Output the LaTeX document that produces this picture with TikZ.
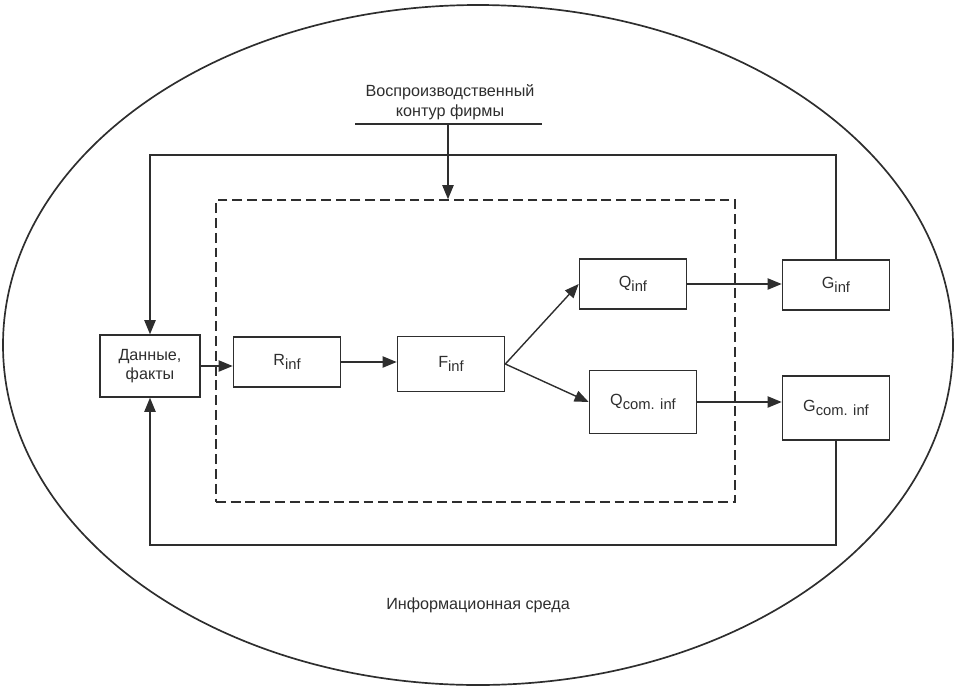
\documentclass[tikz,border=0pt]{standalone}
\usepackage{fontspec}
\setmainfont{Liberation Sans}
\usepackage{tikz}
\usetikzlibrary{positioning,arrows.meta,calc}
\definecolor{ink}{HTML}{2E2E2E}
\newcommand{\lowidx}[1]{\raisebox{-0.45ex}{\fontsize{10.5}{12}\selectfont #1}}
\tikzset{
  box/.style={draw=ink,line width=1pt,minimum width=2.68cm,minimum height=1.25cm,inner sep=2pt,font=\fontsize{11.5}{14}\selectfont,align=center,text=ink},
  note/.style={font=\fontsize{11.5}{14}\selectfont,align=center,inner sep=1pt,text=ink},
  arr/.style={-{Triangle[length=10pt,width=8pt]},line width=1pt,ink},
  line/.style={line width=1pt,ink},
}
\begin{document}
\begin{tikzpicture}[x=0.025cm,y=-0.025cm]
\useasboundingbox (0,0) rectangle (956,686);
\draw[ink,line width=1.2pt] (478,345) ellipse [x radius=475, y radius=340];
\node[note] (env) at (478,605) {Информационная среда};
\node[note] (title) at (450,102) {Воспроизводственный\\контур фирмы};
\node[draw=ink,line width=1pt,dash pattern=on 7pt off 3.5pt,minimum width=12.975cm,minimum height=7.55cm] (frame) at (475.5,351) {};
\node[box,minimum width=2.5cm,minimum height=1.55cm] (data) at (150,366) {Данные,\\факты};
\node[box] (Rinf) at (287,362) {R\lowidx{inf}};
\node[box,minimum height=1.375cm] (Finf) at (451,364) {F\lowidx{inf}};
\node[box] (Qinf) at (633,284) {Q\lowidx{inf}};
\node[box,minimum height=1.575cm] (Qcom) at (643,402) {Q\lowidx{com. inf}};
\node[box] (Ginf) at (836,285) {G\lowidx{inf}};
\node[box,minimum height=1.6cm] (Gcom) at (836,408) {G\lowidx{com. inf}};
\coordinate (ul) at (448,124);
\coordinate (tl) at (150,155);
\coordinate (bl) at (150,545);
\draw[line] (355,124) -- (542,124);
\draw[arr] (ul) -- (ul |- frame.north);
\draw[arr] (data) -- (data -| Rinf.west);
\draw[arr] (Rinf) -- (Rinf -| Finf.west);
\draw[arr] (Finf.east) -- (Qinf.west);
\draw[arr] (Finf.east) -- (Qcom.west);
\draw[arr] (Qinf.east) -- (Qinf.east -| Ginf.west);
\draw[arr] (Qcom.east) -- (Qcom.east -| Gcom.west);
\draw[arr] (Ginf.north) |- (tl) -- (data.north);
\draw[arr] (Gcom.south) |- (bl) -- (data.south);
\end{tikzpicture}
\end{document}
